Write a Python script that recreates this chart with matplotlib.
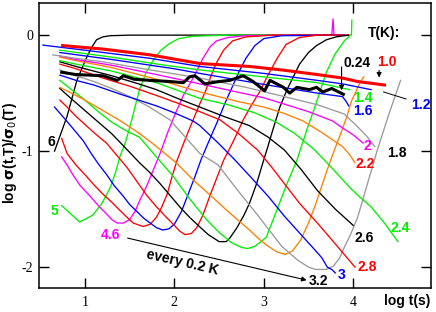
import numpy as np
import matplotlib.pyplot as plt

plt.rcParams['axes.unicode_minus'] = False  # plain hyphen on tick labels

# relaxation curves log sigma(t,T)/sigma0(T) vs log t
x_024 = [0.74, 0.9, 1.06, 1.2, 1.36, 1.43, 1.55, 1.73, 1.95, 2.1, 2.17, 2.23, 2.34, 2.5, 2.62, 2.77,
         2.88, 3.01, 3.07, 3.22, 3.29, 3.37, 3.51, 3.59, 3.66, 3.76, 3.89]
y_024 = [-0.32, -0.34, -0.345, -0.35, -0.39, -0.35, -0.38, -0.39, -0.40, -0.41, -0.36, -0.35, -0.42,
         -0.40, -0.39, -0.35, -0.40, -0.48, -0.39, -0.45, -0.50, -0.45, -0.47, -0.45, -0.49, -0.46, -0.51]

x_10 = [0.75, 1.2, 1.73, 2.285, 2.84, 3.2, 3.6, 3.88, 4.05, 4.35]
y_10 = [-0.09, -0.12, -0.17, -0.245, -0.27, -0.30, -0.34, -0.37, -0.40, -0.43]
x_12 = [0.53, 1.0, 1.73, 2.285, 3.0, 3.6, 3.88, 4.2]
y_12 = [-0.086, -0.13, -0.20, -0.27, -0.33, -0.39, -0.42, -0.47]
x_14 = [0.72, 1.3, 1.9, 2.285, 3.0, 3.6, 3.96]
y_14 = [-0.13, -0.19, -0.26, -0.30, -0.36, -0.41, -0.47]
x_16 = [0.72, 1.3, 2.0, 2.285, 3.04, 3.6, 3.88, 3.92, 3.95]
y_16 = [-0.15, -0.21, -0.29, -0.33, -0.43, -0.50, -0.53, -0.57, -0.61]
x_18 = [0.64, 0.9, 1.2, 1.73, 2.285, 2.8, 3.23, 3.6, 3.9, 4.05, 4.15, 4.24]
y_18 = [-0.17, -0.2, -0.23, -0.30, -0.37, -0.45, -0.53, -0.6, -0.68, -0.79, -0.87, -0.96]
x_20 = [0.72, 0.9, 1.3, 1.8, 2.285, 2.7, 3.0, 3.21, 3.5, 3.77, 3.88, 4.0, 4.11]
y_20 = [-0.18, -0.21, -0.26, -0.34, -0.42, -0.49, -0.54, -0.59, -0.66, -0.74, -0.80, -0.86, -0.93]
x_22 = [0.72, 0.9, 1.3, 1.8, 2.285, 2.7, 3.0, 3.21, 3.44, 3.65, 3.88, 3.96, 4.02]
y_22 = [-0.19, -0.22, -0.28, -0.38, -0.49, -0.57, -0.62, -0.67, -0.74, -0.84, -0.96, -1.03, -1.10]
x_24 = [0.72, 0.9, 1.3, 1.6, 1.8, 2.05, 2.285, 2.6, 2.9, 3.14, 3.35, 3.57, 3.78, 3.97, 4.08, 4.2, 4.35, 4.5]
y_24 = [-0.22, -0.25, -0.31, -0.37, -0.41, -0.48, -0.545, -0.6, -0.67, -0.75, -0.85, -0.99, -1.16,
        -1.32, -1.4, -1.48, -1.62, -1.78]
x_26 = [0.72, 0.9, 1.3, 1.6, 1.8, 2.05, 2.285, 2.55, 2.84, 3.05, 3.23, 3.42, 3.6, 3.8, 4.0]
y_26 = [-0.23, -0.27, -0.35, -0.42, -0.47, -0.55, -0.62, -0.7, -0.78, -0.88, -0.99, -1.16, -1.34, -1.5, -1.64]
x_28 = [0.72, 0.9, 1.2, 1.5, 1.8, 2.05, 2.285, 2.51, 2.72, 2.93, 3.08, 3.23, 3.4, 3.6, 3.8, 4.02]
y_28 = [-0.25, -0.29, -0.37, -0.44, -0.52, -0.59, -0.66, -0.73, -0.85, -0.99, -1.13, -1.28, -1.45, -1.62, -1.8, -2.0]
x_30 = [0.72, 0.9, 1.1, 1.4, 1.6, 1.8, 2.0, 2.21, 2.285, 2.49, 2.67, 2.85, 3.05, 3.23, 3.44, 3.57, 3.65,
        3.71, 3.76, 3.8]
y_30 = [-0.345, -0.39, -0.43, -0.51, -0.56, -0.61, -0.67, -0.74, -0.78, -0.93, -1.07, -1.22, -1.39, -1.56,
        -1.74, -1.85, -1.92, -2.0, -2.02, -2.05]
x_32 = [0.72, 0.9, 1.1, 1.3, 1.5, 1.7, 1.95, 2.1, 2.285, 2.49, 2.7, 2.93, 3.03, 3.2, 3.38, 3.5, 3.58, 3.7,
        3.78, 3.85, 3.9, 3.97, 4.05, 4.16, 4.27, 4.4, 4.53]
y_32 = [-0.30, -0.35, -0.4, -0.46, -0.53, -0.61, -0.73, -0.86, -1.02, -1.12, -1.33, -1.55, -1.65, -1.82,
        -1.94, -2.0, -2.02, -2.02, -1.99, -1.92, -1.83, -1.72, -1.57, -1.28, -0.99, -0.68, -0.39]
x_34 = [0.72, 0.85, 1.0, 1.2, 1.4, 1.615, 1.8, 2.02, 2.2, 2.43, 2.6, 2.72, 2.84, 2.95, 3.05, 3.15, 3.24,
        3.32, 3.41, 3.5, 3.57, 3.64, 3.71, 3.79, 3.86, 3.93, 3.98, 4.04, 4.09, 4.12]
y_34 = [-0.45, -0.5, -0.56, -0.65, -0.74, -0.85, -0.96, -1.1, -1.24, -1.4, -1.52, -1.6, -1.68, -1.76, -1.82,
        -1.87, -1.89, -1.86, -1.77, -1.62, -1.48, -1.32, -1.16, -0.99, -0.85, -0.7, -0.57, -0.47, -0.39, -0.36]
x_36 = [0.72, 0.85, 1.0, 1.15, 1.3, 1.45, 1.61, 1.8, 1.99, 2.17, 2.36, 2.5, 2.64, 2.75, 2.82, 2.9, 2.97,
        3.03, 3.15, 3.26, 3.37, 3.48, 3.58, 3.7, 3.8, 3.9, 3.97, 3.98, 3.985]
y_36 = [-0.39, -0.47, -0.56, -0.66, -0.75, -0.82, -0.88, -1.05, -1.22, -1.41, -1.59, -1.7, -1.79, -1.83,
        -1.84, -1.82, -1.78, -1.74, -1.5, -1.28, -1.08, -0.82, -0.6, -0.32, -0.16, -0.05, 0.0, 0.0, 0.13]
x_38 = [0.72, 0.85, 1.0, 1.15, 1.3, 1.45, 1.61, 1.72, 1.84, 1.95, 2.06, 2.17, 2.28, 2.38, 2.5, 2.58, 2.62,
        2.7, 2.78, 2.84, 2.92, 2.99, 3.05, 3.1, 3.18, 3.26, 3.33, 3.4, 3.5, 3.59, 3.7, 3.81, 3.95]
y_38 = [-0.46, -0.55, -0.65, -0.75, -0.85, -0.97, -1.1, -1.18, -1.28, -1.38, -1.48, -1.57, -1.65, -1.72,
        -1.78, -1.78, -1.75, -1.66, -1.55, -1.45, -1.28, -1.1, -0.95, -0.82, -0.62, -0.47, -0.36, -0.25,
        -0.15, -0.09, -0.04, -0.015, 0.0]
x_40 = [0.72, 0.8, 0.9, 1.0, 1.1, 1.24, 1.35, 1.47, 1.58, 1.69, 1.8, 1.91, 2.0, 2.06, 2.12, 2.19, 2.25,
        2.32, 2.4, 2.48, 2.55, 2.63, 2.7, 2.77, 2.85, 2.96, 3.05, 3.15, 3.25, 3.4, 3.6, 3.95]
y_40 = [-0.56, -0.62, -0.7, -0.77, -0.84, -0.93, -1.03, -1.14, -1.26, -1.38, -1.48, -1.57, -1.64, -1.69,
        -1.72, -1.71, -1.66, -1.55, -1.38, -1.22, -1.08, -0.96, -0.85, -0.73, -0.62, -0.48, -0.34, -0.2,
        -0.08, -0.02, 0.0, 0.0]
x_42 = [0.66, 0.75, 0.85, 0.98, 1.07, 1.15, 1.24, 1.33, 1.43, 1.5, 1.58, 1.66, 1.73, 1.8, 1.87, 1.94, 2.0,
        2.08, 2.15, 2.23, 2.3, 2.4, 2.49, 2.57, 2.64, 2.72, 2.8, 2.9, 3.0, 3.2, 3.9]
y_42 = [-0.62, -0.7, -0.79, -0.91, -1.02, -1.11, -1.2, -1.3, -1.39, -1.46, -1.52, -1.58, -1.62, -1.66,
        -1.68, -1.67, -1.63, -1.52, -1.38, -1.22, -1.07, -0.89, -0.73, -0.58, -0.46, -0.32, -0.2, -0.09,
        -0.03, -0.005, 0.0]
x_44 = [0.74, 0.8, 0.9, 1.02, 1.1, 1.2, 1.3, 1.39, 1.47, 1.54, 1.65, 1.73, 1.8, 1.86, 1.92, 1.97, 2.03,
        2.12, 2.21, 2.28, 2.35, 2.41, 2.47, 2.55, 2.65, 2.8, 3.1, 3.9]
y_44 = [-0.89, -1.02, -1.12, -1.22, -1.29, -1.37, -1.44, -1.51, -1.57, -1.62, -1.65, -1.63, -1.57, -1.48,
        -1.37, -1.23, -1.08, -0.9, -0.73, -0.6, -0.48, -0.35, -0.24, -0.13, -0.05, -0.015, 0.0, 0.0]
x_46 = [0.74, 0.8, 0.87, 0.95, 1.06, 1.15, 1.24, 1.3, 1.36, 1.43, 1.5, 1.56, 1.61, 1.68, 1.75, 1.84, 1.93,
        2.02, 2.1, 2.21, 2.32, 2.4, 2.47, 2.6, 2.8, 3.2, 3.76, 3.775, 3.785, 3.95]
y_46 = [-1.05, -1.12, -1.21, -1.30, -1.39, -1.47, -1.54, -1.59, -1.62, -1.62, -1.59, -1.52, -1.43, -1.32,
        -1.19, -1.02, -0.83, -0.66, -0.52, -0.37, -0.2, -0.1, -0.05, -0.02, -0.005, 0.0, 0.0, 0.14, 0.0, 0.0]
x_50 = [0.74, 0.84, 0.94, 1.02, 1.09, 1.19, 1.28, 1.34, 1.39, 1.45, 1.5, 1.56, 1.61, 1.68, 1.76, 1.85,
        1.95, 2.05, 2.2, 2.6, 3.0, 3.6]
y_50 = [-1.47, -1.54, -1.61, -1.58, -1.55, -1.45, -1.32, -1.19, -1.05, -0.93, -0.8, -0.62, -0.47, -0.33,
        -0.22, -0.13, -0.07, -0.03, -0.01, 0.0, 0.0, 0.0]
x_60 = [0.66, 0.73, 0.8, 0.86, 0.91, 0.97, 1.02, 1.08, 1.13, 1.2, 1.28, 1.5, 2.0, 3.0, 3.85]
y_60 = [-1.0, -0.85, -0.7, -0.53, -0.39, -0.28, -0.19, -0.1, -0.04, -0.015, -0.005, 0.0, 0.0, 0.0, 0.0]

RED, BLUE, GREEN, MAG = '#ff0000', '#0000ff', '#00f000', '#ff00ff'
ORANGE, GRAY, BLACK = '#ff7f00', '#9a9a9a', '#000000'

curves = [
    (x_60, y_60, BLACK), (x_50, y_50, GREEN), (x_46, y_46, MAG), (x_44, y_44, RED),
    (x_42, y_42, BLUE), (x_40, y_40, RED), (x_38, y_38, BLACK), (x_36, y_36, GREEN),
    (x_34, y_34, ORANGE), (x_32, y_32, GRAY), (x_30, y_30, BLUE), (x_28, y_28, RED),
    (x_26, y_26, BLACK), (x_24, y_24, GREEN), (x_22, y_22, ORANGE), (x_20, y_20, MAG),
    (x_18, y_18, GRAY), (x_16, y_16, BLUE), (x_14, y_14, GREEN), (x_12, y_12, BLUE),
]

fig = plt.figure(figsize=(4.36, 3.12), dpi=100)
ax = fig.add_axes([0.0894, 0.0769, 0.8991, 0.9131])

for xs, ys, c in curves:
    ax.plot(xs, ys, color=c, lw=0.95, solid_joinstyle='round')
ax.plot(x_10, y_10, color=RED, lw=2.2)
ax.plot(x_024, y_024, color=BLACK, lw=2.2)

ax.set_xlim(0.486, 4.87)
ax.set_ylim(-2.18, 0.276)
ax.set_xticks([1, 2, 3, 4])
ax.set_yticks([0, -1, -2])
ax.tick_params(direction='in', length=7, width=1, top=True, right=True, pad=6)
for lab in ax.get_xticklabels() + ax.get_yticklabels():
    lab.set_family('Liberation Serif')
    lab.set_fontsize(10)
ax.tick_params(axis='y', pad=4)
for s in ax.spines.values():
    s.set_linewidth(1.1)

bold = dict(family='Liberation Sans', fontweight='bold', fontsize=10)
fig.text(0.022, 0.51, r'log $\mathbf{\sigma}$(t,T)/$\mathbf{\sigma}_0$(T)', rotation=90,
         ha='center', va='center', **bold)
fig.text(0.988, 0.035, 'log t(s)', ha='right', va='center', **bold)

labels = [
    ('T(K):', 4.34, 0.02, BLACK), ('1.0', 4.38, -0.23, RED), ('0.24', 4.04, -0.24, BLACK),
    ('1.4', 4.11, -0.54, GREEN), ('1.2', 4.76, -0.60, BLUE), ('1.6', 4.11, -0.65, BLUE),
    ('2', 4.16, -0.96, MAG), ('1.8', 4.49, -1.02, BLACK), ('2.2', 4.13, -1.11, RED),
    ('2.4', 4.53, -1.66, GREEN), ('2.6', 4.12, -1.75, BLACK), ('2.8', 4.16, -2.0, RED),
    ('3', 3.87, -2.07, BLUE), ('3.2', 3.61, -2.12, BLACK), ('4.6', 1.29, -1.72, MAG),
    ('5', 0.66, -1.52, GREEN), ('6', 0.62, -0.92, BLACK),
]
for txt, lx, ly, c in labels:
    ax.text(lx, ly, txt, color=c, ha='center', va='center', **bold)
ax.text(2.09, -1.96, 'every 0.2 K', rotation=-13, ha='center', va='center', **bold)

arrow = dict(arrowstyle='-|>', color='black', lw=0.8, mutation_scale=7)
ax.annotate('', xy=(4.29, -0.39), xytext=(4.29, -0.28), arrowprops=arrow)
ax.annotate('', xy=(3.87, -0.50), xytext=(3.87, -0.25), arrowprops=arrow)
ax.annotate('', xy=(3.51, -2.118), xytext=(1.447, -1.744), arrowprops=arrow)
ax.plot([4.34, 4.59], [-0.49, -0.55], color='black', lw=0.7)

fig.savefig('out.png', dpi=100)
